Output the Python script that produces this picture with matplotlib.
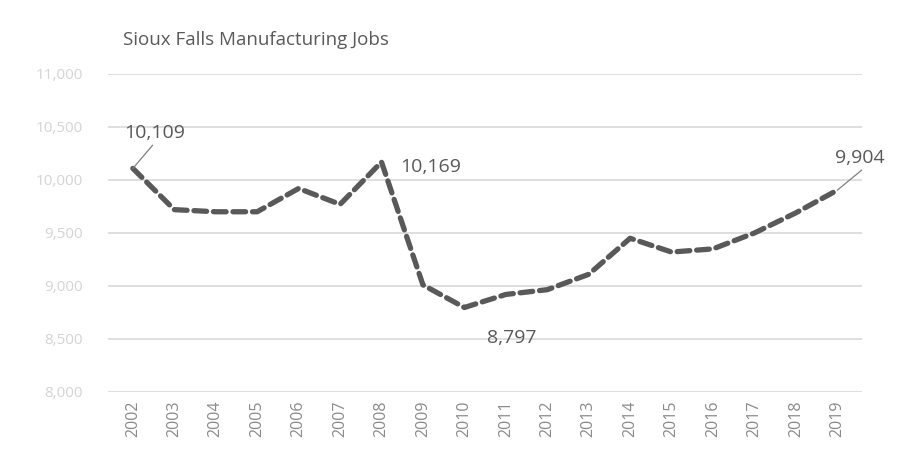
import matplotlib.pyplot as plt
from matplotlib.ticker import FuncFormatter

years = list(range(2002, 2020))
jobs = [10109, 9720, 9700, 9700, 9920, 9770, 10169, 9010, 8797,
        8920, 8965, 9110, 9450, 9320, 9350, 9500, 9690, 9904]
y_ticks = [8000, 8500, 9000, 9500, 10000, 10500, 11000]
title = "Sioux Falls Manufacturing Jobs"

plt.rcParams['font.family'] = ['Open Sans', 'DejaVu Sans']

fig = plt.figure(figsize=(9, 4.65), dpi=100)
ax = fig.add_axes([0.12, 0.157, 0.838, 0.684])

x = list(range(len(years)))
ax.plot(x, jobs, color='#595959', lw=3.8, ls=(0, (2.4, 1.3)),
        solid_capstyle='round', dash_capstyle='round', zorder=3)

ax.set_xlim(-0.6, len(years) - 0.4)
ax.set_ylim(8000, 11000)
ax.set_yticks(y_ticks)
ax.yaxis.set_major_formatter(FuncFormatter(lambda v, p: f"{int(v):,}"))
ax.set_xticks(x)
ax.set_xticklabels([str(y) for y in years], rotation=90)
ax.tick_params(axis='y', length=0, labelsize=11, labelcolor='#d4d4d4', pad=18)
ax.tick_params(axis='x', length=0, labelsize=11.5, labelcolor='#8a8a8a', pad=6)
ax.grid(axis='y', color='#d9d9d9', lw=1.2, zorder=0)
for s in ax.spines.values():
    s.set_visible(False)

fig.text(0.137, 0.915, title, fontsize=13.5, color='#595959', ha='left', va='center')

lab = dict(fontsize=14, color='#595959')
leader = dict(arrowstyle='-', color='#7f7f7f', lw=0.9, shrinkA=0, shrinkB=0)

i0 = 0
ax.annotate(f"{jobs[i0]:,}", xy=(x[i0], jobs[i0]), xytext=(x[i0] - 0.2, jobs[i0] + 330),
            ha='left', va='center', **lab,
            arrowprops=dict(relpos=(0.5, 0.0), **leader))
i1 = years.index(2008)
ax.annotate(f"{jobs[i1]:,}", xy=(x[i1], jobs[i1]), xytext=(x[i1] + 0.45, jobs[i1] - 50),
            ha='left', va='center', **lab)
i2 = years.index(2010)
ax.annotate(f"{jobs[i2]:,}", xy=(x[i2], jobs[i2]), xytext=(x[i2] + 1.15, jobs[i2] - 290),
            ha='center', va='center', **lab)
i3 = len(years) - 1
ax.annotate(f"{jobs[i3]:,}", xy=(x[i3], jobs[i3]), xytext=(x[i3] + 0.55, jobs[i3] + 300),
            ha='center', va='center', **lab,
            arrowprops=dict(relpos=(0.6, 0.0), **leader))

fig.savefig('out.png', dpi=100, facecolor='white')
